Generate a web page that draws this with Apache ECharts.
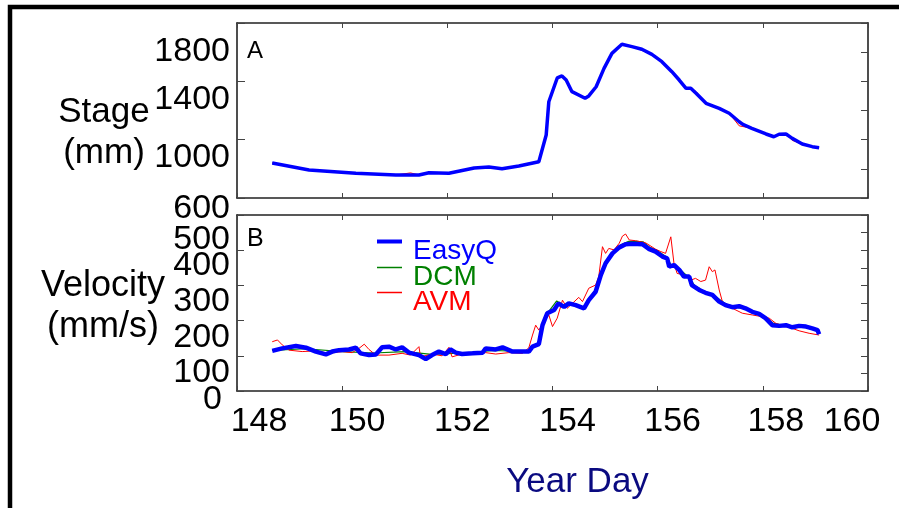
<!DOCTYPE html>
<html><head><meta charset="utf-8">
<script src="https://cdn.jsdelivr.net/npm/echarts@6/dist/echarts.min.js"></script>
<style>html,body{margin:0;padding:0;background:#fff}#c{width:899px;height:508px}</style>
</head><body><div id="c"></div>
<script>
// ---------------- DATA ----------------
const xTicks = [148, 150, 152, 154, 156, 158, 160];
const stageTicks = [600, 1000, 1400, 1800];
const velTicks = [0, 100, 200, 300, 400, 500];
const legendNames = ['EasyQ', 'DCM', 'AVM'];
const stageTitle = 'Stage\n(mm)';
const velTitle = 'Velocity\n(mm/s)';
const xTitle = 'Year Day';

// Panel A: stage (mm)
const stageDays = [148.67,149.37,150.26,151.02,151.30,151.46,151.65,152.03,152.51,152.79,153.04,153.36,153.74,153.88,153.93,154.09,154.18,154.26,154.37,154.62,154.69,154.83,154.98,155.13,155.32,155.51,155.70,155.89,156.08,156.27,156.41,156.54,156.63,156.73,156.92,157.17,157.36,157.55,157.62,157.79,158.06,158.21,158.31,158.44,158.56,158.75,158.94,159.07];
const stageEasyQ = [840,792,770,758,757,758,773,770,806,813,801,820,849,1032,1260,1423,1437,1409,1329,1284,1300,1363,1489,1592,1654,1638,1620,1585,1535,1466,1409,1352,1352,1318,1249,1215,1181,1123,1105,1078,1039,1020,1037,1039,1009,970,952,945];
const stageDCM   = [840,792,770,758,757,758,773,770,806,813,801,820,849,1032,1260,1423,1437,1409,1329,1284,1300,1363,1489,1592,1654,1638,1620,1585,1535,1466,1409,1352,1352,1318,1249,1215,1181,1123,1105,1078,1039,1020,1037,1039,1009,970,952,945];
const stageAVM   = [840,792,770,758,772,758,773,770,806,813,801,820,849,1032,1260,1423,1437,1409,1329,1284,1300,1363,1489,1592,1654,1638,1612,1585,1535,1466,1409,1352,1352,1330,1249,1215,1181,1095,1090,1078,1039,1020,1037,1039,995,970,952,945];

// Panel B: velocity (mm/s)
const velDaysEasyQ = [148.67,148.86,149.12,149.31,149.50,149.69,149.81,149.94,150.13,150.26,150.35,150.51,150.64,150.76,150.89,151.02,151.14,151.27,151.46,151.59,151.71,151.84,151.97,152.06,152.16,152.28,152.48,152.67,152.73,152.92,153.05,153.24,153.30,153.49,153.55,153.62,153.74,153.81,153.90,154.03,154.11,154.22,154.31,154.44,154.60,154.69,154.82,154.92,155.01,155.14,155.27,155.39,155.52,155.71,155.84,155.96,156.09,156.18,156.22,156.31,156.41,156.50,156.60,156.65,156.79,156.91,157.04,157.17,157.29,157.42,157.55,157.67,157.80,157.93,158.05,158.18,158.31,158.44,158.56,158.69,158.82,158.94,159.04,159.07];
const velEasyQ = [114,121,128,123,112,104,112,116,118,123,107,102,104,124,126,118,124,109,102,91,102,112,105,118,109,105,107,109,121,118,124,112,112,112,112,126,133,187,221,230,249,239,249,244,235,258,282,330,363,391,408,417,418,417,403,396,382,377,353,358,344,325,325,301,287,279,273,254,244,238,241,235,225,219,207,187,185,187,181,185,183,178,173,161];

const velDaysDCM = [148.67,149.30,150.00,150.60,151.20,151.70,152.30,152.90,153.50,153.74,153.82,153.92,154.08,154.22,154.40,154.60,154.70,154.85,155.00,155.15,155.30,155.45,155.60,155.72,155.85,156.00,156.15,156.25,156.45,156.60,156.70,156.90,157.10,157.30,157.50,157.80,158.05,158.20,158.45,158.70,158.95,159.07];
const velDCM = [115,120,112,108,112,104,108,115,112,135,190,224,256,242,248,238,262,295,365,395,415,425,425,424,408,398,383,360,342,322,300,282,268,247,238,228,210,192,185,184,180,163];

const velDaysAVM = [148.67,148.77,148.86,148.99,149.24,149.50,149.75,150.00,150.19,150.32,150.42,150.51,150.64,150.89,151.14,151.30,151.46,151.49,151.71,151.90,152.03,152.09,152.28,152.54,152.73,152.92,153.17,153.43,153.55,153.62,153.68,153.74,153.84,153.93,154.00,154.09,154.19,154.28,154.38,154.50,154.57,154.69,154.82,154.88,154.95,155.01,155.07,155.17,155.27,155.33,155.39,155.46,155.58,155.77,155.96,156.06,156.15,156.25,156.31,156.37,156.50,156.63,156.72,156.82,156.91,156.98,157.04,157.09,157.17,157.24,157.42,157.61,157.80,157.99,158.12,158.25,158.44,158.56,158.69,158.88,159.07];
const velAVM = [140,145,131,116,112,114,107,112,109,121,133,118,102,102,107,102,126,97,105,100,124,97,105,105,109,105,109,107,123,159,187,173,197,216,183,207,258,235,249,266,254,292,301,325,410,391,405,401,420,440,446,429,427,421,403,396,391,438,363,334,330,315,320,311,315,353,339,344,287,249,235,221,216,211,207,192,183,178,171,164,159];

// ---------------- STYLE ----------------
const FONT = "'Liberation Sans', Arial, Helvetica, sans-serif";
const C_BLUE = '#0000ff', C_GREEN = '#008000', C_RED = '#ff0000', C_NAVY = '#0a0a80';
const AXC = '#222';
const pairs = (xs, ys) => xs.map((x, i) => [x, ys[i]]);

// per-label nudges (tick labels in the reference sit offset from their ticks)
const stageLabelPad = {600: [22,0,0,0], 1000: [36,0,0,0], 1400: [37,0,0,0], 1800: [57,0,0,0]};
const velLabelPad = {0: [18,8,0,0], 100: [34,0,0,0], 200: [34,0,0,0], 300: [32,0,0,0], 400: [30,0,0,0], 500: [50,0,0,0]};
const xLabelPad = {148: [0,0,0,44], 150: [0,0,0,30], 152: [0,0,0,30], 154: [0,0,0,30], 156: [0,0,0,30], 158: [0,0,0,26], 160: [0,32,0,0]};

function richFor(vals, pads, prefix, size) {
  const r = {};
  vals.forEach(v => { r[prefix + v] = {padding: pads[v], fontSize: size, fontFamily: FONT, color: '#000'}; });
  return r;
}

const baseX = (gi, pos, extra) => Object.assign({
  type: 'value', gridIndex: gi, position: pos, min: 148, max: 160, interval: 2,
  axisLine: {show: true, onZero: false, lineStyle: {color: AXC, width: 1.6}},
  axisTick: {show: true, inside: true, length: 5, lineStyle: {color: '#444', width: 1}},
  axisLabel: {show: false}, splitLine: {show: false}
}, extra || {});

const baseY = (gi, pos, min, max, interval, tickLen, extra) => Object.assign({
  type: 'value', gridIndex: gi, position: pos, min: min, max: max, interval: interval,
  axisLine: {show: true, onZero: false, lineStyle: {color: AXC, width: 1.6}},
  axisTick: {show: true, inside: true, length: tickLen, lineStyle: {color: '#444', width: 1}},
  axisLabel: {show: false}, splitLine: {show: false}
}, extra || {});

// label-only category axis whose evenly spaced categories coincide with the value ticks
const labelY = (gi, ticks, pads, prefix) => ({
  type: 'category', gridIndex: gi, position: 'left', boundaryGap: false,
  data: ticks.map(String),
  axisLine: {show: false}, axisTick: {show: false}, splitLine: {show: false},
  axisLabel: {show: true, interval: 0, margin: 7, color: '#000',
    formatter: v => '{' + prefix + v + '|' + v + '}',
    rich: richFor(ticks, pads, prefix, 34)}
});

const legendRich = {
  e: {color: C_BLUE, fontSize: 28, fontFamily: FONT, lineHeight: 20, padding: [19,0,0,6]},
  d: {color: C_GREEN, fontSize: 28, fontFamily: FONT, lineHeight: 20, padding: [19,0,0,6]},
  a: {color: C_RED, fontSize: 28, fontFamily: FONT, lineHeight: 20, padding: [19,0,0,6]}
};
const legendKey = {EasyQ: 'e', DCM: 'd', AVM: 'a'};
const mkLegend = (name, top, h) => ({
  data: [{name: name, icon: 'rect'}],
  left: 377, top: top, orient: 'vertical', itemWidth: 25, itemHeight: h, padding: 0,
  selectedMode: false,
  formatter: n => '{' + legendKey[n] + '|' + n + '}',
  textStyle: {rich: legendRich}
});

const chart = echarts.init(document.getElementById('c'), null, {renderer: 'canvas'});
chart.setOption({
  animation: false,
  backgroundColor: '#fff',
  textStyle: {fontFamily: FONT},
  grid: [
    {left: 237, top: 23, width: 631, height: 175, containLabel: false, outerBoundsMode: 'none'},
    {left: 237, top: 215, width: 631, height: 176, containLabel: false, outerBoundsMode: 'none'}
  ],
  xAxis: [
    baseX(0, 'bottom'),
    baseX(0, 'top'),
    baseX(1, 'bottom', {
      axisLabel: {show: true, margin: 14, color: '#000',
        formatter: v => '{x' + v + '|' + v + '}',
        rich: richFor(xTicks, xLabelPad, 'x', 34), showMinLabel: true, showMaxLabel: true, hideOverlap: false},
      name: xTitle, nameLocation: 'middle', nameGap: 91, nameMoveOverlap: false,
      nameTextStyle: {color: C_NAVY, fontSize: 35, fontFamily: FONT, align: 'center', verticalAlign: 'middle', padding: [0,0,0,50]}
    }),
    baseX(1, 'top')
  ],
  yAxis: [
    baseY(0, 'left', 600, 1800, 400, 8),
    baseY(0, 'right', 600, 1800, 200, 7),
    baseY(1, 'left', 0, 500, 100, 7),
    baseY(1, 'right', 0, 500, 50, 7),
    labelY(0, stageTicks, stageLabelPad, 's'),
    labelY(1, velTicks, velLabelPad, 'v')
  ],
  legend: [mkLegend('EasyQ', 218, 4), mkLegend('DCM', 244, 1.5), mkLegend('AVM', 269, 1.5)],
  graphic: [
    {type: 'rect', shape: {x: 10, y: 7, width: 1200, height: 1200}, style: {fill: null, stroke: '#000', lineWidth: 4.5}, silent: true},
    {type: 'text', x: 104, y: 133, style: {text: stageTitle, fontSize: 35, lineHeight: 41, fontFamily: FONT, fill: '#000', align: 'center', verticalAlign: 'middle'}},
    {type: 'text', x: 103, y: 307, style: {text: velTitle, fontSize: 36, lineHeight: 41, fontFamily: FONT, fill: '#000', align: 'center', verticalAlign: 'middle'}},
    {type: 'text', x: 247, y: 51, style: {text: 'A', fontSize: 24, fontFamily: FONT, fill: '#000', verticalAlign: 'middle'}},
    {type: 'text', x: 247, y: 239, style: {text: 'B', fontSize: 25, fontFamily: FONT, fill: '#000', verticalAlign: 'middle'}}
  ],
  series: [
    {name: 'DCM', type: 'line', xAxisIndex: 0, yAxisIndex: 0, data: pairs(stageDays, stageDCM), showSymbol: false, symbol: 'none', lineStyle: {color: C_GREEN, width: 1}, itemStyle: {color: C_GREEN}, z: 2},
    {name: 'AVM', type: 'line', xAxisIndex: 0, yAxisIndex: 0, data: pairs(stageDays, stageAVM), showSymbol: false, symbol: 'none', lineStyle: {color: C_RED, width: 1}, itemStyle: {color: C_RED}, z: 3},
    {name: 'EasyQ', type: 'line', xAxisIndex: 0, yAxisIndex: 0, data: pairs(stageDays, stageEasyQ), showSymbol: false, symbol: 'none', lineStyle: {color: C_BLUE, width: 3.5}, itemStyle: {color: C_BLUE}, z: 4},
    {name: 'DCM', type: 'line', xAxisIndex: 2, yAxisIndex: 2, data: pairs(velDaysDCM, velDCM), showSymbol: false, symbol: 'none', lineStyle: {color: C_GREEN, width: 1.2}, itemStyle: {color: C_GREEN}, z: 2},
    {name: 'AVM', type: 'line', xAxisIndex: 2, yAxisIndex: 2, data: pairs(velDaysAVM, velAVM), showSymbol: false, symbol: 'none', lineStyle: {color: C_RED, width: 1}, itemStyle: {color: C_RED}, z: 3},
    {name: 'EasyQ', type: 'line', xAxisIndex: 2, yAxisIndex: 2, data: pairs(velDaysEasyQ, velEasyQ), showSymbol: false, symbol: 'none', lineStyle: {color: C_BLUE, width: 4.5}, itemStyle: {color: C_BLUE}, z: 4}
  ]
});
</script></body></html>
